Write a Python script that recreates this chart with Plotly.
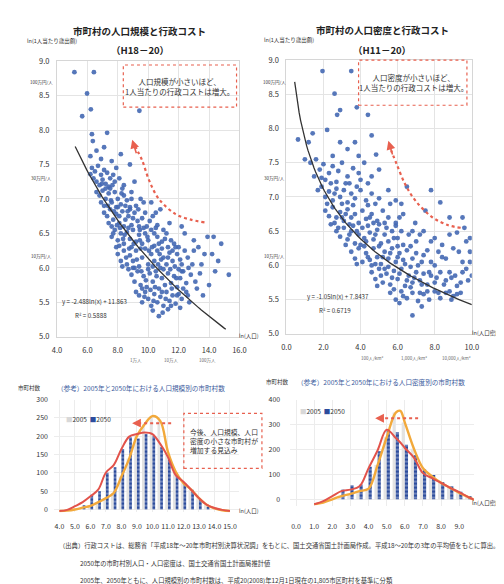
import numpy as np
import plotly.graph_objects as go

FONT = "Noto Sans CJK JP"
W, H = 504, 584

# ---------------- data ----------------
# top-left: ln(population) vs ln(cost per person)
pop_points = [
    (5.15, 8.84), (6.43, 8.84), (5.98, 8.53), (6.23, 8.30), (5.66, 8.20), (9.42, 8.28), (6.30, 7.94),
    (7.30, 7.96), (6.36, 7.84), (6.6, 7.7), (7.1, 7.75), (6.2, 7.62), (8.2, 7.65), (7.6, 7.55),
    (6.9, 7.58), (8.8, 7.5), (7.9, 7.45),
    (6.3, 7.45), (6.5, 7.4), (6.7, 7.48), (6.9, 7.35), (7.1, 7.42), (7.3, 7.38), (7.5, 7.3), (7.7, 7.35),
    (6.4, 7.3), (6.6, 7.25), (6.8, 7.2), (7.0, 7.28), (7.2, 7.22), (7.4, 7.18), (7.8, 7.25), (8.1, 7.3),
    (6.2, 7.36), (8.4, 7.2), (9.1, 7.25),
    (6.6, 7.1), (6.8, 7.05), (7.0, 7.12), (7.2, 7.0), (7.4, 7.08), (7.6, 6.95), (7.8, 7.1), (8.0, 7.0),
    (8.2, 6.92), (8.4, 7.05), (8.6, 6.98), (8.9, 7.1), (7.1, 6.9), (7.5, 7.15), (7.9, 6.88), (8.3, 7.15),
    (6.9, 6.95), (9.5, 7.0), (10.2, 6.95), (8.8, 6.85),
    (7.1, 6.8), (7.3, 6.75), (7.5, 6.85), (7.7, 6.7), (7.9, 6.78), (8.1, 6.65), (8.3, 6.82), (8.5, 6.7),
    (8.7, 6.75), (8.9, 6.62), (9.1, 6.8), (9.3, 6.68), (9.6, 6.72), (9.9, 6.6), (7.6, 6.6), (8.0, 6.88),
    (8.4, 6.6), (8.8, 6.88), (9.2, 6.9), (10.3, 6.75), (10.8, 6.85), (7.4, 6.65), (9.45, 6.55), (10.6, 6.62),
    (7.6, 6.45), (7.8, 6.55), (8.0, 6.4), (8.2, 6.5), (8.4, 6.35), (8.6, 6.52), (8.8, 6.42), (9.0, 6.55),
    (9.2, 6.38), (9.4, 6.48), (9.6, 6.35), (9.8, 6.5), (10.0, 6.4), (10.2, 6.55), (10.4, 6.32), (10.6, 6.45),
    (10.9, 6.38), (11.2, 6.5), (11.5, 6.4), (8.1, 6.32), (8.9, 6.3), (9.7, 6.58), (10.5, 6.58), (11.8, 6.3),
    (12.4, 6.5), (13.9, 6.45), (7.9, 6.3),
    (8.0, 6.2), (8.2, 6.1), (8.4, 6.25), (8.6, 6.05), (8.8, 6.18), (9.0, 6.1), (9.2, 6.25), (9.4, 6.02),
    (9.6, 6.15), (9.8, 6.28), (10.0, 6.05), (10.2, 6.2), (10.4, 6.1), (10.6, 6.25), (10.8, 6.0), (11.0, 6.15),
    (11.2, 6.05), (11.4, 6.22), (11.6, 6.1), (11.9, 6.2), (12.2, 6.05), (12.6, 6.15), (13.0, 6.25), (13.5, 6.05),
    (14.2, 6.2), (14.6, 6.1), (9.1, 6.0), (10.9, 6.28), (12.0, 6.3), (13.3, 6.3), (8.3, 6.02), (9.5, 6.28),
    (8.9, 5.9), (9.1, 5.8), (9.3, 5.95), (9.5, 5.75), (9.7, 5.88), (9.9, 5.72), (10.1, 5.92), (10.3, 5.8),
    (10.5, 5.95), (10.7, 5.7), (10.9, 5.85), (11.1, 5.75), (11.3, 5.92), (11.5, 5.78), (11.7, 5.88), (11.9, 5.72),
    (12.1, 5.85), (12.3, 5.95), (12.5, 5.78), (12.8, 5.9), (13.1, 5.8), (13.4, 5.92), (10.0, 5.98), (11.0, 5.98),
    (12.0, 5.98), (8.7, 5.98), (15.3, 5.9), (14.0, 5.75), (9.6, 5.7),
    (9.4, 5.6), (9.6, 5.5), (9.8, 5.65), (10.0, 5.55), (10.2, 5.45), (10.4, 5.62), (10.6, 5.5), (10.8, 5.58),
    (11.0, 5.45), (11.2, 5.65), (11.4, 5.52), (11.6, 5.6), (11.8, 5.48), (12.0, 5.62), (12.2, 5.55), (12.5, 5.65),
    (10.7, 5.3), (10.3, 5.38), (11.3, 5.4), (12.7, 5.5),
    (8.1, 6.75), (8.5, 6.9), (8.7, 6.58), (9.0, 6.72), (9.35, 6.85), (9.8, 6.8), (10.1, 6.68), (10.4, 6.5),
    (10.7, 6.35), (11.0, 6.55), (11.3, 6.3), (11.6, 6.25), (11.1, 6.42), (10.3, 6.02), (10.55, 5.88),
    (10.85, 6.12), (11.45, 5.98), (11.75, 6.02), (12.1, 6.12), (12.4, 6.25), (12.9, 6.05), (13.2, 5.7),
    (12.6, 5.6), (12.3, 5.7), (11.9, 5.6), (11.55, 5.7), (11.15, 5.55), (10.9, 5.65), (10.45, 5.72),
    (10.15, 5.68), (9.85, 5.82), (9.55, 5.95), (9.25, 6.12), (9.05, 6.35), (8.75, 6.28), (8.55, 6.15),
    (8.35, 6.42), (8.15, 6.58), (7.95, 6.62), (7.75, 6.82), (7.55, 6.98), (7.35, 6.9), (7.2, 7.15),
    (6.95, 7.22), (7.65, 7.2), (8.25, 7.08), (8.65, 6.82), (9.4, 6.6), (9.95, 6.45), (10.25, 6.3),
    (10.75, 6.2), (11.3, 6.15), (11.85, 5.85), (12.2, 5.95), (12.65, 6.0), (13.7, 6.2), (14.4, 5.95),
    (13.6, 5.6), (9.2, 5.65), (9.75, 5.58), (10.35, 5.52), (10.95, 5.35), (11.5, 5.45), (12.1, 5.42),
    (9.0, 6.0), (9.45, 6.4), (10.05, 6.25), (10.65, 6.05), (11.7, 6.35), (8.45, 6.48), (7.7, 6.5),
    (8.9, 7.0), (9.7, 6.95), (10.5, 6.8), (11.4, 6.65), (12.2, 6.6), (13.0, 6.4), (14.3, 6.45), (14.8, 6.35),
]
pop_x = [p[0] for p in pop_points]
pop_y = [p[1] for p in pop_points]
pop_slope, pop_intercept = -2.488, 11.863
pop_fit_range = (5.2, 15.1)

# top-right: ln(population density) vs ln(cost per person)
den_points = [
    (1.95, 8.84), (3.5, 8.84), (2.6, 8.51), (2.9, 8.27), (2.74, 8.2), (3.8, 8.31), (4.4, 8.2), (0.63, 7.84),
    (1.42, 7.93), (2.2, 7.98), (3.7, 7.8), (4.84, 7.62), (3.3, 7.7), (2.5, 7.6),
    (1.3, 7.5), (1.6, 7.55), (1.8, 7.4), (2.0, 7.48), (2.3, 7.35), (2.5, 7.45), (2.8, 7.38), (3.0, 7.5),
    (3.3, 7.3), (3.6, 7.42), (3.9, 7.35), (4.2, 7.5), (4.6, 7.3), (1.5, 7.3), (2.1, 7.25), (2.7, 7.22),
    (3.4, 7.2), (4.0, 7.25), (5.0, 7.4), (1.9, 7.28),
    (1.7, 7.1), (1.9, 7.15), (2.1, 7.0), (2.3, 7.08), (2.5, 6.95), (2.7, 7.12), (2.9, 7.0), (3.1, 7.1),
    (3.3, 6.92), (3.5, 7.05), (3.7, 6.98), (4.0, 7.1), (4.3, 6.95), (4.6, 7.05), (5.0, 6.98), (5.5, 7.1),
    (5.9, 6.95), (8.3, 6.92), (2.2, 6.9), (3.0, 6.9), (6.5, 7.15),
    (2.1, 6.8), (2.3, 6.72), (2.5, 6.85), (2.7, 6.7), (2.9, 6.78), (3.1, 6.65), (3.3, 6.82), (3.5, 6.7),
    (3.7, 6.75), (3.9, 6.62), (4.1, 6.8), (4.3, 6.68), (4.6, 6.75), (4.9, 6.65), (5.2, 6.8), (5.5, 6.7),
    (5.9, 6.62), (6.3, 6.75), (6.95, 6.62), (2.6, 6.62), (3.4, 6.6), (4.4, 6.88), (7.5, 6.8),
    (2.7, 6.5), (2.9, 6.42), (3.1, 6.55), (3.3, 6.38), (3.5, 6.5), (3.7, 6.32), (3.9, 6.45), (4.1, 6.55),
    (4.3, 6.35), (4.5, 6.48), (4.7, 6.38), (4.9, 6.52), (5.1, 6.32), (5.3, 6.45), (5.5, 6.35), (5.7, 6.5),
    (6.0, 6.4), (6.3, 6.3), (6.6, 6.45), (7.0, 6.35), (7.4, 6.5), (8.0, 6.4), (9.2, 6.48), (3.6, 6.58),
    (4.4, 6.58), (5.9, 6.58), (3.2, 6.3), (9.7, 6.35),
    (3.5, 6.2), (3.7, 6.1), (3.9, 6.25), (4.1, 6.05), (4.3, 6.18), (4.5, 6.08), (4.7, 6.25), (4.9, 6.12),
    (5.1, 6.02), (5.3, 6.2), (5.5, 6.1), (5.7, 6.25), (5.9, 6.05), (6.1, 6.18), (6.3, 6.08), (6.5, 6.22),
    (6.8, 6.1), (7.1, 6.0), (7.4, 6.15), (7.8, 6.05), (8.2, 6.2), (8.6, 6.1), (9.0, 6.25), (9.5, 6.05),
    (9.9, 6.2), (4.0, 6.3), (5.0, 6.28), (6.0, 6.28), (4.6, 6.0),
    (4.6, 5.9), (4.8, 5.8), (5.0, 5.95), (5.2, 5.75), (5.4, 5.88), (5.6, 5.72), (5.8, 5.92), (6.0, 5.8),
    (6.2, 5.95), (6.4, 5.7), (6.6, 5.85), (6.8, 5.75), (7.0, 5.9), (7.2, 5.78), (7.4, 5.88), (7.6, 5.72),
    (7.8, 5.85), (8.0, 5.75), (8.3, 5.9), (8.6, 5.78), (8.9, 5.82), (9.2, 5.7), (9.5, 5.9), (9.8, 5.78),
    (5.5, 5.98), (6.7, 5.98), (4.9, 5.7),
    (5.6, 5.6), (5.9, 5.5), (6.2, 5.62), (6.5, 5.52), (6.8, 5.6), (7.1, 5.48), (7.4, 5.58), (7.7, 5.5),
    (8.0, 5.62), (8.3, 5.52), (8.6, 5.6), (8.9, 5.5), (9.2, 5.58), (6.8, 5.27), (7.3, 5.4), (6.1, 5.45),
    (2.4, 6.6), (2.8, 6.55), (3.2, 6.75), (3.6, 6.88), (3.8, 6.5), (4.2, 6.4), (4.5, 6.7), (4.8, 6.45),
    (5.0, 6.6), (5.4, 6.55), (5.8, 6.4), (6.2, 6.5), (3.4, 6.45), (3.8, 6.02), (4.2, 6.28), (4.4, 6.12),
    (4.8, 6.02), (5.2, 6.12), (5.6, 6.18), (6.0, 6.12), (6.4, 6.02), (6.7, 6.28), (7.0, 6.18), (7.3, 6.05),
    (7.6, 6.22), (8.0, 6.0), (8.4, 6.12), (5.1, 5.85), (5.3, 5.95), (5.7, 5.82), (6.1, 5.88), (6.5, 5.78),
    (6.9, 5.82), (7.3, 5.72), (7.7, 5.9), (8.1, 5.82), (8.5, 5.72), (8.8, 5.9), (9.1, 5.85), (9.4, 5.75),
    (9.7, 5.95), (10.0, 5.85), (5.8, 5.65), (6.3, 5.55), (6.7, 5.68), (7.2, 5.6), (7.6, 5.62), (8.2, 5.6),
    (8.8, 5.62), (9.0, 5.55), (9.4, 5.6), (4.7, 6.62), (5.3, 6.62), (6.1, 6.7), (6.8, 6.5), (7.2, 6.45),
    (7.8, 6.35), (8.4, 6.3), (8.8, 6.45), (9.3, 6.2), (9.6, 6.55), (9.9, 6.05), (3.0, 6.7), (2.6, 7.05),
    (2.4, 7.2), (3.2, 7.2), (3.8, 7.15), (4.4, 7.2), (4.8, 6.9), (5.6, 6.9), (6.2, 6.9), (7.8, 7.1),
    (8.8, 6.7), (9.5, 6.7), (9.9, 6.4), (3.9, 7.6), (4.6, 7.9), (1.0, 7.55), (1.2, 7.8), (2.9, 7.8),
]
den_x = [p[0] for p in den_points]
den_y = [p[1] for p in den_points]
den_slope, den_intercept = -1.05, 7.8437
den_fit_range = (0.45, 10.0)

# bottom-left: number of municipalities by ln(population)
hs_bar_x = [5.5, 6.0, 6.5, 7.0, 7.5, 8.0, 8.5, 9.0, 9.5, 10.0, 10.5, 11.0, 11.5, 12.0, 12.5, 13.0, 13.5]
hs_bar_2005 = [5, 10, 20, 31, 45, 90, 139, 201, 233, 255, 242, 157, 103, 72, 54, 31, 13]
hs_bar_2050 = [12, 40, 50, 100, 115, 165, 197, 194, 206, 200, 170, 136, 94, 72, 54, 27, 8]
hs_line_x = [4.0, 4.5, 5.0, 5.5, 6.0, 6.5, 7.0, 7.5, 8.0, 8.5, 9.0, 9.5, 10.0, 10.5, 11.0, 11.5,
             12.0, 12.5, 13.0, 13.5, 14.0, 14.5, 15.0]
hs_line_2005 = [-4, -3, 0, 5, 10, 20, 31, 45, 90, 139, 201, 233, 255, 242, 157, 103, 72, 54, 31, 13, 3, -2, -4]
hs_line_2050 = [-4, -1, 9, 20, 36, 54, 101, 121, 165, 199, 206, 210, 206, 179, 143, 94, 76, 54, 31, 13, 4, -1, -4]

# bottom-right: number of municipalities by ln(population density)
hd_bar_x = [2.5, 3.0, 3.5, 4.0, 4.5, 5.0, 5.5, 6.0, 6.5, 7.0, 7.5, 8.0, 8.5, 9.0, 9.5]
hd_bar_2005 = [13, 22, 33, 43, 138, 249, 348, 308, 203, 125, 92, 66, 46, 26, 9]
hd_bar_2050 = [39, 56, 59, 131, 193, 275, 269, 219, 177, 121, 98, 70, 52, 30, 13]
hd_line_x = [1.0, 1.5, 2.0, 2.5, 3.0, 3.5, 4.0, 4.5, 5.0, 5.5, 5.75, 6.0, 6.5, 7.0, 7.5, 8.0, 8.5, 9.0, 9.5, 10.0]
hd_line_2005 = [-20, -13, 0, 13, 22, 33, 43, 138, 249, 348, 355, 308, 203, 125, 92, 66, 46, 26, 9, -9]
hd_line_2050 = [-20, -7, 13, 33, 39, 52, 125, 197, 279, 246, 228, 206, 167, 105, 85, 66, 46, 29, 9, -7]

# ---------------- style ----------------
BLUE_PT = "#4468b2"
BAR_BLUE = "#2c4c9c"
BAR_LIGHT = "#e3e3e3"
ORANGE = "#f2a93b"
RED = "#e2534b"
ARROW_RED = "#e8604f"
GRID = "#e4e4e4"
TXT = "#333333"


def px(x):
    return x / W


def py(y):
    return 1 - y / H


fig = go.Figure()

# scatter plots
fig.add_trace(go.Scatter(x=pop_x, y=pop_y, mode="markers", xaxis="x", yaxis="y",
                         marker=dict(size=4.8, color=BLUE_PT, opacity=0.9, line=dict(width=0))))
xf = np.linspace(pop_fit_range[0], pop_fit_range[1], 80)
fig.add_trace(go.Scatter(x=xf, y=pop_slope * np.log(xf) + pop_intercept, mode="lines",
                         xaxis="x", yaxis="y", line=dict(color="#333333", width=1.3)))

fig.add_trace(go.Scatter(x=den_x, y=den_y, mode="markers", xaxis="x2", yaxis="y2",
                         marker=dict(size=4.8, color=BLUE_PT, opacity=0.9, line=dict(width=0))))
xf2 = np.linspace(den_fit_range[0], den_fit_range[1], 120)
fig.add_trace(go.Scatter(x=xf2, y=den_slope * np.log(xf2) + den_intercept, mode="lines",
                         xaxis="x2", yaxis="y2", line=dict(color="#333333", width=1.3)))

# dotted red curved arrows (decorations)
fig.add_trace(go.Scatter(x=[13.7, 12.8, 11.8, 10.7, 10.06, 9.6, 9.15], y=[6.66, 6.70, 6.78, 7.0, 7.27, 7.56, 7.76],
                         mode="lines", line=dict(color=ARROW_RED, width=2.2, dash="dot", shape="spline"),
                         xaxis="x", yaxis="y", hoverinfo="skip"))
fig.add_trace(go.Scatter(x=[9.4, 8.7, 7.84, 6.95, 6.4, 5.95, 5.65], y=[6.55, 6.59, 6.71, 6.95, 7.19, 7.48, 7.68],
                         mode="lines", line=dict(color=ARROW_RED, width=2.2, dash="dot", shape="spline"),
                         xaxis="x2", yaxis="y2", hoverinfo="skip"))

# bottom-left bars & lines
fig.add_trace(go.Bar(x=hs_bar_x, y=hs_bar_2005, xaxis="x3", yaxis="y3", marker=dict(color=BAR_LIGHT, line=dict(width=0))))
fig.add_trace(go.Bar(x=hs_bar_x, y=hs_bar_2050, xaxis="x3", yaxis="y3",
                     marker=dict(color=BAR_BLUE, line=dict(width=0),
                                 pattern=dict(shape="-", fgcolor="#ffffff", size=4, solidity=0.3))))
fig.add_trace(go.Scatter(x=hs_line_x, y=hs_line_2005, mode="lines", xaxis="x3", yaxis="y3",
                         line=dict(color=ORANGE, width=2.4, shape="spline")))
fig.add_trace(go.Scatter(x=hs_line_x, y=hs_line_2050, mode="lines", xaxis="x3", yaxis="y3",
                         line=dict(color=RED, width=2.0, shape="spline")))

# bottom-right bars & lines
fig.add_trace(go.Bar(x=hd_bar_x, y=hd_bar_2005, xaxis="x4", yaxis="y4", marker=dict(color=BAR_LIGHT, line=dict(width=0))))
fig.add_trace(go.Bar(x=hd_bar_x, y=hd_bar_2050, xaxis="x4", yaxis="y4",
                     marker=dict(color=BAR_BLUE, line=dict(width=0),
                                 pattern=dict(shape="-", fgcolor="#ffffff", size=4, solidity=0.3))))
fig.add_trace(go.Scatter(x=hd_line_x, y=hd_line_2005, mode="lines", xaxis="x4", yaxis="y4",
                         line=dict(color=ORANGE, width=2.4, shape="spline")))
fig.add_trace(go.Scatter(x=hd_line_x, y=hd_line_2050, mode="lines", xaxis="x4", yaxis="y4",
                         line=dict(color=RED, width=2.0, shape="spline")))

tickfont = dict(family=FONT, size=7.5, color=TXT)
scat_axis = dict(showgrid=True, gridcolor=GRID, gridwidth=1, zeroline=False, showline=True,
                 linecolor="#d6d6d6", mirror=True, ticks="", tickfont=tickfont, tickformat=".1f")
bar_axis = dict(showgrid=True, gridcolor="#ececec", gridwidth=1, zeroline=False, showline=False,
                ticks="", tickfont=dict(family=FONT, size=7, color=TXT))

fig.update_layout(
    width=W, height=H, margin=dict(l=0, r=0, t=0, b=0),
    paper_bgcolor="white", plot_bgcolor="white", showlegend=False,
    font=dict(family=FONT, size=8, color=TXT),
    barmode="group", bargap=0.3, bargroupgap=0,
    xaxis=dict(domain=[px(45), px(232)], range=[4, 16], dtick=2, anchor="y", ticklabelstandoff=6, **scat_axis),
    yaxis=dict(domain=[py(329), py(48)], range=[5, 9], dtick=0.5, anchor="x", ticklabelstandoff=5, **scat_axis),
    xaxis2=dict(domain=[px(280), px(470)], range=[0, 10], dtick=2, anchor="y2", ticklabelstandoff=6, **scat_axis),
    yaxis2=dict(domain=[py(326), py(47)], range=[5, 9], dtick=0.5, anchor="x2", ticklabelstandoff=5, **scat_axis),
    xaxis3=dict(domain=[px(42), px(231)], range=[3.65, 15.55], tickvals=list(range(4, 16)), tickformat=".1f",
                tickangle=0, anchor="y3", ticklabelstandoff=9, **bar_axis),
    yaxis3=dict(domain=[py(508), py(393)], range=[-8, 300], dtick=50, anchor="x3", ticklabelstandoff=5, **bar_axis),
    xaxis4=dict(domain=[px(284), px(472)], range=[-0.32, 9.8], tickvals=list(range(0, 10)), tickformat=".1f",
                tickangle=0, anchor="y4", ticklabelstandoff=15, **bar_axis),
    yaxis4=dict(domain=[py(501), py(393)], range=[-25, 400], dtick=100, anchor="x4", ticklabelstandoff=9, **bar_axis),
)

# ---------------- shapes ----------------
shapes = []
for (x0, y0, x1, y1) in [(113, 52, 229, 95), (354, 47, 465, 93), (175, 407, 255, 463)]:
    shapes.append(dict(type="rect", xref="paper", yref="paper", x0=px(x0), x1=px(x1), y0=py(y1), y1=py(y0),
                       line=dict(color=ARROW_RED, width=1.2, dash="dot"), fillcolor="rgba(0,0,0,0)"))
for (x0, x1, yy) in [(162, 126, 417), (415, 376, 412)]:
    shapes.append(dict(type="line", xref="paper", yref="paper", x0=px(x0), x1=px(x1), y0=py(yy), y1=py(yy),
                       line=dict(color=ARROW_RED, width=2, dash="dot")))
fig.update_layout(shapes=shapes)

# ---------------- annotations ----------------
ann = []


def text(x, y, s, size=7, color=TXT, bold=False, xanchor="center", align="center"):
    ann.append(dict(x=px(x), y=py(y), xref="paper", yref="paper", text=("<b>%s</b>" % s) if bold else s,
                    showarrow=False, xanchor=xanchor, yanchor="middle", align=align,
                    font=dict(family=FONT, size=size, color=color)))


text(130, 17, "市町村の人口規模と行政コスト", size=9.5, color="#222", bold=True)
text(130, 37, "（H18－20）", size=9.5, color="#222", bold=True)
text(378, 16, "市町村の人口密度と行政コスト", size=9.5, color="#222", bold=True)
text(378, 37, "（H11－20）", size=9.5, color="#222", bold=True)
text(40, 28, "ln(1人当たり歳出額)", size=5.5)
text(283, 27, "ln(1人当たり歳出額)", size=5.5)
for xx in (29, 268):
    text(xx, 70, "100万円/人", size=4.5)
    text(xx, 168, "30万円/人", size=4.5)
    text(xx, 247, "10万円/人", size=4.5)
text(48, 293, "y = -2.488ln(x) + 11.863", size=6.2, xanchor="left")
text(80, 307, "R² = 0.5888", size=6.2)
text(299, 288, "y = -1.05ln(x) + 7.8437", size=6.2, xanchor="left")
text(330, 302, "R² = 0.6719", size=6.2)
text(242, 328, "ln(人口)", size=5.5)
text(486, 325, "ln(人口密度)", size=5.5)
text(126, 353, "1万人", size=4.5, color="#666")
text(162, 353, "10万人", size=4.5, color="#666")
text(199, 353, "100万人", size=4.5, color="#666")
text(368, 351, "100人/km²", size=4.5, color="#666")
text(411, 351, "1,000人/km²", size=4.5, color="#666")
text(454, 351, "10,000人/km²", size=4.5, color="#666")
text(171, 74, "人口規模が小さいほど、<br>1人当たりの行政コストは増大。", size=7.5)
text(410, 70, "人口密度が小さいほど、<br>1人当たりの行政コストは増大。", size=7.5)

text(17, 381, "市町村数", size=5.5)
text(271, 375, "市町村数", size=5.5)
text(43, 381, "（参考）2005年と2050年における人口規模別の市町村数", size=6.6, color="#3b5a9c", xanchor="left")
text(289, 375, "（参考）2005年と2050年における人口密度別の市町村数", size=6.6, color="#3b5a9c", xanchor="left")
legend_txt = ('<span style="color:%s">■</span>2005 &nbsp;<span style="color:%s">■</span>2050' % ("#d8d8d8", BAR_BLUE))
text(52, 413, legend_txt, size=6.5, xanchor="left")
text(292, 405, legend_txt, size=6.5, xanchor="left")
text(179, 435, "今後、人口規模、人口<br>密度の小さな市町村が<br>増加する見込み", size=6.8, xanchor="left", align="left")
text(242, 507, "ln(人口)", size=5.5)
text(486, 498, "ln(人口密度)", size=5.5)

text(45, 542, "（出典）行政コストは、総務省「平成18年～20年市町村別決算状況調」をもとに、国土交通省国土計画局作成。平成18～20年の3年の平均値をもとに算出。",
     size=6.3, xanchor="left")
text(67, 560, "2050年の市町村別人口・人口密度は、国土交通省国土計画局推計値", size=6.3, xanchor="left")
text(67, 577, "2005年、2050年ともに、人口規模別の市町村数は、平成20(2008)年12月1日現在の1,805市区町村を基準に分類",
     size=6.3, xanchor="left")

# arrowheads
arrow = dict(showarrow=True, arrowhead=2, arrowsize=1.1, arrowwidth=1.6, arrowcolor=ARROW_RED, text="")
ann.append(dict(x=8.95, y=7.86, ax=9.25, ay=7.64, xref="x", yref="y", axref="x", ayref="y", **arrow))
ann.append(dict(x=5.5, y=7.82, ax=5.75, ay=7.6, xref="x2", yref="y2", axref="x2", ayref="y2", **arrow))
ann.append(dict(x=px(122), y=py(417), ax=10, ay=0, xref="paper", yref="paper",
                axref="pixel", ayref="pixel", **arrow))
ann.append(dict(x=px(371), y=py(412), ax=10, ay=0, xref="paper", yref="paper",
                axref="pixel", ayref="pixel", **arrow))
fig.update_layout(annotations=ann)

fig.write_html("out.html")
